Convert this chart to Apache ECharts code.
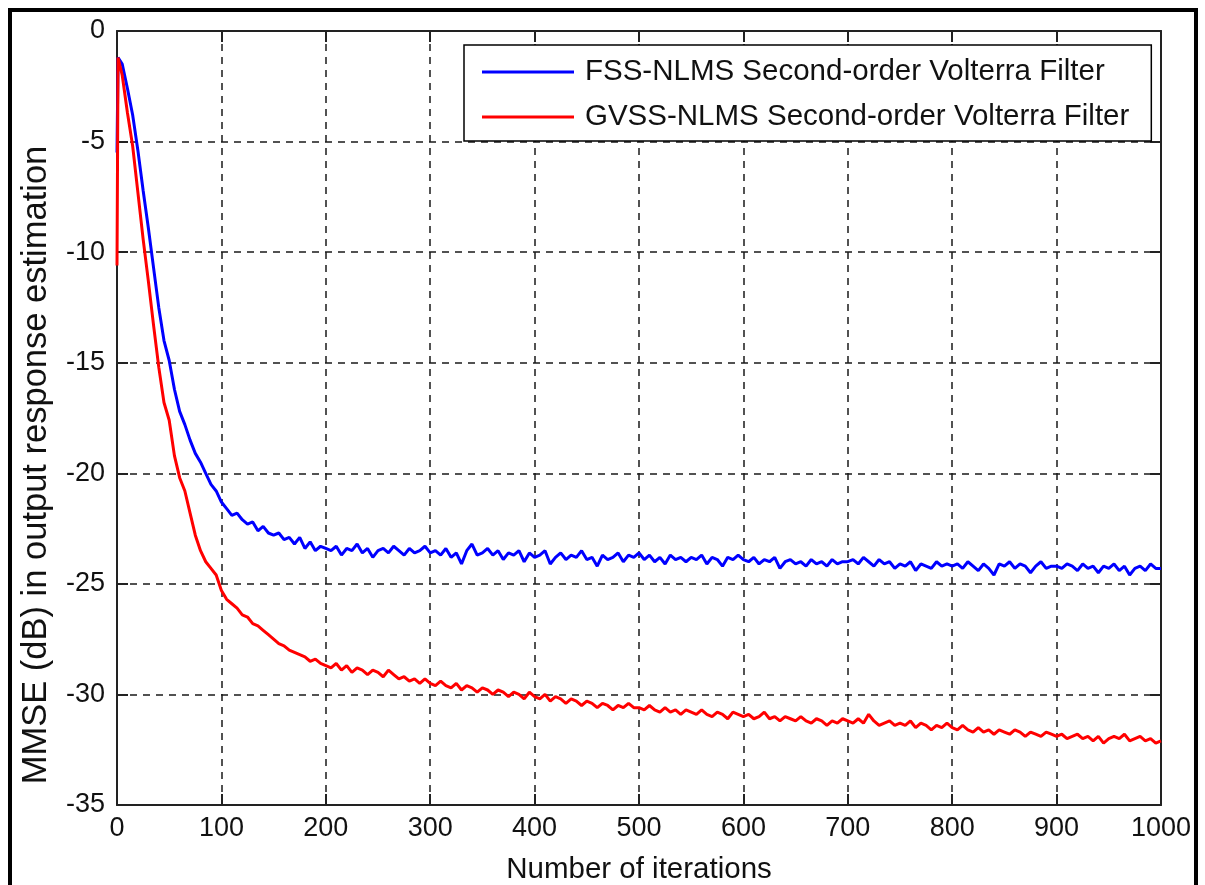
<!DOCTYPE html>
<html>
<head>
<meta charset="utf-8">
<title>MMSE</title>
<script src="https://cdn.jsdelivr.net/npm/echarts@6/dist/echarts.min.js"></script>
<style>
  html, body { margin: 0; padding: 0; background: #fff; }
  #main { width: 1205px; height: 885px; }
</style>
</head>
<body>
<div id="main"></div>
<script>
// iteration index of each sample
var iterations = [
  0, 1, 5, 10, 15, 20, 25, 30, 35, 40, 45, 50, 55, 60, 65, 70, 75, 80, 85, 90, 95, 100,
  105, 110, 115, 120, 125, 130, 135, 140, 145, 150, 155, 160, 165, 170, 175, 180, 185, 190, 195, 200,
  205, 210, 215, 220, 225, 230, 235, 240, 245, 250, 255, 260, 265, 270, 275, 280, 285, 290, 295, 300,
  305, 310, 315, 320, 325, 330, 335, 340, 345, 350, 355, 360, 365, 370, 375, 380, 385, 390, 395, 400,
  405, 410, 415, 420, 425, 430, 435, 440, 445, 450, 455, 460, 465, 470, 475, 480, 485, 490, 495, 500,
  505, 510, 515, 520, 525, 530, 535, 540, 545, 550, 555, 560, 565, 570, 575, 580, 585, 590, 595, 600,
  605, 610, 615, 620, 625, 630, 635, 640, 645, 650, 655, 660, 665, 670, 675, 680, 685, 690, 695, 700,
  705, 710, 715, 720, 725, 730, 735, 740, 745, 750, 755, 760, 765, 770, 775, 780, 785, 790, 795, 800,
  805, 810, 815, 820, 825, 830, 835, 840, 845, 850, 855, 860, 865, 870, 875, 880, 885, 890, 895, 900,
  905, 910, 915, 920, 925, 930, 935, 940, 945, 950, 955, 960, 965, 970, 975, 980, 985, 990, 995, 1000
];

// FSS-NLMS (blue), MMSE in dB
var fssNlms = [
  -5.5, -1.2, -1.5, -2.6, -3.8, -5.4, -7.2, -8.9, -10.7, -12.5, -14.0, -14.9, -16.2, -17.2, -17.8, -18.5, -19.1, -19.5, -20.0, -20.5, -20.8, -21.3,
  -21.6, -21.9, -21.8, -22.1, -22.3, -22.2, -22.6, -22.4, -22.7, -22.8, -22.7, -23.0, -22.9, -23.2, -22.9, -23.4, -23.1, -23.5, -23.3, -23.4,
  -23.5, -23.3, -23.7, -23.4, -23.5, -23.2, -23.6, -23.4, -23.8, -23.5, -23.4, -23.6, -23.3, -23.5, -23.7, -23.4, -23.6, -23.5, -23.3, -23.6,
  -23.5, -23.7, -23.4, -23.8, -23.6, -24.1, -23.5, -23.2, -23.7, -23.6, -23.4, -23.7, -23.5, -23.9, -23.6, -23.7, -23.5, -24.0, -23.6, -23.8,
  -23.7, -23.5, -24.1, -23.8, -23.6, -23.9, -23.7, -23.8, -23.5, -23.9, -23.8, -24.2, -23.7, -23.9, -23.8, -23.6, -24.0, -23.7, -23.8, -23.6,
  -23.9, -23.7, -24.0, -23.8, -24.1, -23.7, -23.9, -23.8, -24.0, -23.8, -23.9, -23.7, -24.1, -23.8, -23.9, -24.2, -23.8, -23.9, -23.7, -23.9,
  -24.0, -23.8, -24.1, -23.9, -24.0, -23.8, -24.3, -24.0, -23.9, -24.1, -24.0, -24.2, -23.9, -24.1, -24.0, -24.2, -23.9, -24.1, -24.0, -24.0,
  -23.9, -24.1, -23.8, -24.0, -24.2, -23.9, -24.1, -24.0, -24.3, -24.1, -24.2, -24.0, -24.4, -24.1, -24.2, -24.3, -24.0, -24.2, -24.1, -24.2,
  -24.1, -24.3, -24.0, -24.2, -24.4, -24.1, -24.3, -24.6, -24.1, -24.2, -24.0, -24.3, -24.1, -24.2, -24.5, -24.2, -24.0, -24.3, -24.2, -24.2,
  -24.3, -24.1, -24.2, -24.4, -24.1, -24.3, -24.2, -24.5, -24.2, -24.3, -24.1, -24.4, -24.2, -24.6, -24.3, -24.2, -24.4, -24.1, -24.3, -24.3
];

// GVSS-NLMS (red), MMSE in dB
var gvssNlms = [
  -10.6, -1.2, -2.0, -3.7, -5.2, -7.3, -9.4, -11.3, -13.3, -15.2, -16.8, -17.6, -19.2, -20.2, -20.8, -21.8, -22.8, -23.5, -24.0, -24.3, -24.6, -25.3,
  -25.7, -25.9, -26.1, -26.4, -26.5, -26.8, -26.9, -27.1, -27.3, -27.5, -27.7, -27.8, -28.0, -28.1, -28.2, -28.3, -28.5, -28.4, -28.6, -28.7,
  -28.8, -28.6, -28.9, -28.7, -29.0, -28.8, -28.9, -29.1, -28.9, -29.0, -29.2, -28.9, -29.1, -29.3, -29.2, -29.4, -29.3, -29.5, -29.3, -29.5,
  -29.6, -29.4, -29.6, -29.7, -29.5, -29.8, -29.6, -29.7, -29.9, -29.7, -29.8, -30.0, -29.8, -29.9, -30.1, -29.9, -30.0, -30.2, -29.9, -30.1,
  -30.2, -30.0, -30.3, -30.1, -30.2, -30.4, -30.2, -30.3, -30.5, -30.3, -30.4, -30.6, -30.4, -30.5, -30.7, -30.5, -30.6, -30.4, -30.6, -30.6,
  -30.7, -30.5, -30.7, -30.8, -30.6, -30.8, -30.7, -30.9, -30.7, -30.8, -30.9, -30.7, -30.9, -31.0, -30.8, -30.9, -31.1, -30.8, -30.9, -31.0,
  -30.9, -31.1, -31.0, -30.8, -31.1, -31.0, -31.2, -31.0, -31.1, -31.2, -31.0, -31.2, -31.3, -31.1, -31.2, -31.4, -31.2, -31.3, -31.1, -31.2,
  -31.3, -31.1, -31.3, -30.9, -31.2, -31.4, -31.3, -31.2, -31.4, -31.3, -31.4, -31.2, -31.5, -31.3, -31.4, -31.6, -31.4, -31.5, -31.3, -31.5,
  -31.6, -31.4, -31.6, -31.7, -31.5, -31.7, -31.6, -31.8, -31.6, -31.7, -31.8, -31.6, -31.7, -31.9, -31.7, -31.8, -31.9, -31.7, -31.8, -31.9,
  -31.8, -32.0, -31.9, -31.8, -32.0, -31.9, -32.1, -31.9, -32.2, -32.0, -31.9, -32.0, -31.8, -32.1, -32.0, -31.9, -32.1, -32.0, -32.2, -32.1
];

var seriesNames = ['FSS-NLMS Second-order Volterra Filter', 'GVSS-NLMS Second-order Volterra Filter'];

function pairs(vals) {
  return iterations.map(function (it, i) { return [it, vals[i]]; });
}

var font = 'Arial, "Liberation Sans", Helvetica, sans-serif';
var ink = '#111';

var myChart = echarts.init(document.getElementById('main'));

function gridDash() {
  return { show: true, lineStyle: { color: '#1a1a1a', width: 1.5, type: [7, 6] } };
}
function boxLine() {
  return { show: true, onZero: false, lineStyle: { color: '#222', width: 2 } };
}
function inTick() {
  return { show: true, inside: true, length: 11, lineStyle: { color: '#222', width: 2 } };
}

var option = {
  backgroundColor: '#fff',
  animation: false,
  graphic: [{
    type: 'rect',
    shape: { x: 10, y: 10, width: 1186, height: 900 },
    style: { fill: 'none', stroke: '#000', lineWidth: 4 },
    silent: true
  }],
  grid: { left: 117, top: 31, right: 44, bottom: 80, containLabel: false, outerBoundsMode: 'none' },
  legend: {
    data: seriesNames,
    orient: 'vertical',
    left: 464,
    top: 45,
    icon: 'rect',
    itemWidth: 92,
    itemHeight: 3,
    itemGap: 15,
    padding: [12, 22, 9, 18],
    borderColor: '#000',
    borderWidth: 1.5,
    backgroundColor: '#fff',
    textStyle: { fontFamily: font, fontSize: 29.5, color: ink, lineHeight: 30, padding: [0, 0, 0, 6] }
  },
  xAxis: [{
    type: 'value', min: 0, max: 1000, interval: 100,
    name: 'Number of iterations', nameLocation: 'middle', nameGap: 50,
    nameTextStyle: { fontFamily: font, fontSize: 29.5, color: ink },
    axisLine: boxLine(), axisTick: inTick(), splitLine: gridDash(),
    axisLabel: { fontFamily: font, fontSize: 27, color: ink, margin: 10, formatter: function (v) { return String(v); } }
  }, {
    type: 'value', min: 0, max: 1000, interval: 100, position: 'top',
    axisLine: boxLine(), axisTick: inTick(), splitLine: { show: false },
    axisLabel: { show: false }
  }],
  yAxis: [{
    type: 'value', min: -35, max: 0, interval: 5,
    name: 'MMSE (dB) in output response estimation', nameLocation: 'middle', nameGap: 63,
    nameTextStyle: { fontFamily: font, fontSize: 34.5, color: ink, padding: [0, 94, 0, 0] },
    axisLine: boxLine(), axisTick: inTick(), splitLine: gridDash(),
    axisLabel: { fontFamily: font, fontSize: 27, color: ink, margin: 12 }
  }, {
    type: 'value', min: -35, max: 0, interval: 5, position: 'right',
    axisLine: boxLine(), axisTick: inTick(), splitLine: { show: false },
    axisLabel: { show: false }
  }],
  series: [{
    name: seriesNames[0],
    type: 'line',
    data: pairs(fssNlms),
    showSymbol: false,
    symbol: 'none',
    lineStyle: { color: '#0000ff', width: 3 },
    itemStyle: { color: '#0000ff' }
  }, {
    name: seriesNames[1],
    type: 'line',
    data: pairs(gvssNlms),
    showSymbol: false,
    symbol: 'none',
    lineStyle: { color: '#ff0000', width: 3 },
    itemStyle: { color: '#ff0000' }
  }]
};

myChart.setOption(option);
</script>
</body>
</html>
